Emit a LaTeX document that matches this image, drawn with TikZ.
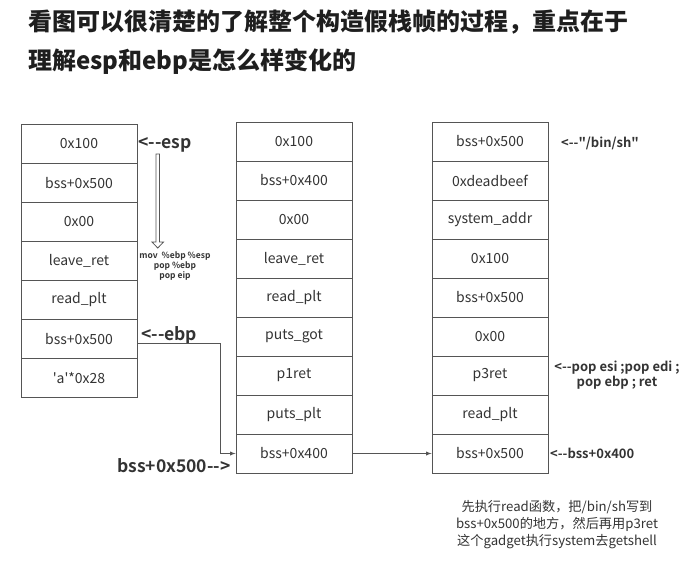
\documentclass[tikz,border=0pt]{standalone}
\usepackage{fontspec}
\setmainfont{Noto Sans CJK SC}[BoldFont={Noto Sans CJK SC Bold}]
\newfontfamily\titlefont{Noto Sans CJK SC Black}
\usepackage{tikz}
\usetikzlibrary{arrows, positioning, calc}
\definecolor{ink}{HTML}{333333}
\definecolor{head}{HTML}{1E1E1E}
\definecolor{frame}{HTML}{555555}
\newcommand{\lar}{<-{}-}
\newcommand{\rar}{-{}->}

\begin{document}
\begin{tikzpicture}[x=1pt,y=-1pt,
    cell/.style={rectangle,draw=frame,line width=0.9pt,minimum width=116pt,minimum height=39pt,inner sep=0pt,text=ink,font=\fontsize{14}{16}\selectfont},
    ptrmark/.style={anchor=west,text=ink,inner sep=0pt,font=\bfseries\fontsize{13}{14.5}\selectfont,align=center},
    bigmark/.style={anchor=west,text=ink,inner sep=0pt,font=\bfseries\fontsize{17.5}{19}\selectfont}]
    \useasboundingbox (0,0) rectangle (684,563);

    % Titolo
    \node[anchor=west,inner sep=0pt,text=head,font=\titlefont\fontsize{24}{28}\selectfont] (t1) at (28,22) {看图可以很清楚的了解整个构造假栈帧的过程，重点在于};
    \node[anchor=west,inner sep=0pt,text=head,font=\titlefont\fontsize{24}{28}\selectfont] (t2) at (28,62) {理解esp和ebp是怎么样变化的};

    % Primo stack
    \foreach \txt [count=\i] in {0x100, bss+0x500, 0x00, leave\_ret, read\_plt, bss+0x500, \textquotesingle a\textquotesingle*0x28}
        \node[cell] (a\i) at (79,{144+39*(\i-1)}) {\txt};

    % Secondo stack
    \foreach \txt [count=\i] in {0x100, bss+0x400, 0x00, leave\_ret, read\_plt, puts\_got, p1ret, puts\_plt, bss+0x400}
        \node[cell] (b\i) at (294,{141.5+39*(\i-1)}) {\txt};

    % Terzo stack
    \foreach \txt [count=\i] in {bss+0x500, 0xdeadbeef, system\_addr, 0x100, bss+0x500, 0x00, p3ret, read\_plt, bss+0x500}
        \node[cell] (c\i) at (490,{141.5+39*(\i-1)}) {\txt};

    % Annotazioni
    \node[bigmark] (esp) at (138,145) {\lar esp};
    \node[bigmark] (ebp) at (141,335) {\lar ebp};
    \node[bigmark] (bss) at (117,466) {bss+0x500\rar};
    \draw[frame,line width=0.8pt,fill=white] (156,154) -- (159.5,154) -- (159.5,242) -- (163.5,242) -- (157.75,248) -- (152,242) -- (156,242) -- cycle;
    \node[text=ink,inner sep=0pt,align=center,font=\bfseries\fontsize{8.5}{10}\selectfont] (leave) at (175,266) {mov\ \ \%ebp \%esp\\pop \%ebp\\pop eip};

    \node[ptrmark] (sh) at (561,143) {\lar\textquotedbl/bin/sh\textquotedbl};
    \node[ptrmark,anchor=center] (gadget) at (617,375) {\lar pop esi ;pop edi ;\\pop ebp ; ret};
    \node[ptrmark] (b400) at (550,453.5) {\lar bss+0x400};

    \coordinate (turn) at (220,343);
    \draw[frame,line width=0.9pt,-latex] (a6.south east) |- (turn) |- (b9.west);
    \draw[frame,line width=0.9pt,-latex] (b9.east) -- (c9.west);

    \node[text=ink,inner sep=0pt,align=center,font=\fontsize{13.2}{17}\selectfont] (note) at (557,525) {先执行read函数，把/bin/sh写到\\bss+0x500的地方，然后再用p3ret\\这个gadget执行system去getshell};
\end{tikzpicture}
\end{document}
